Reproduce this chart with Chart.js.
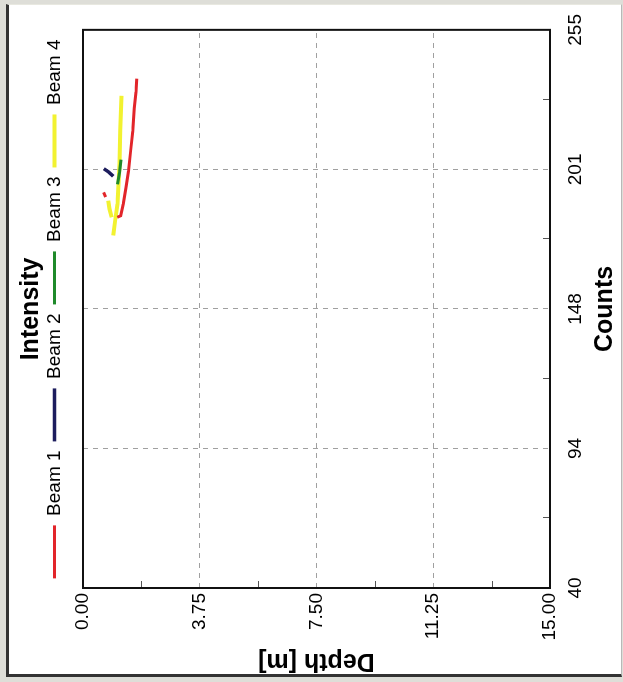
<!DOCTYPE html>
<html>
<head>
<meta charset="utf-8">
<script src="https://cdn.jsdelivr.net/npm/chart.js@4.4.1/dist/chart.umd.min.js"></script>
<style>
  html, body { margin: 0; padding: 0; width: 623px; height: 682px; overflow: hidden; background: #deded8; }
  #frame {
    position: absolute; left: 6px; top: 4px; width: 612px; height: 669px; background: #fff;
    border-left: 3px solid #333; border-bottom: 3px solid #333;
    border-right: 1px solid #b8b8b8; border-top: 1px solid #e8e8e0;
  }
  /* the chart is drawn upright and then turned a quarter turn, like the scan */
  #intensityChart {
    position: absolute; left: 0; top: 0;
    transform-origin: 0 0; transform: translate(0, 682px) rotate(-90deg);
  }
</style>
</head>
<body>
<div id="frame"></div>
<canvas id="intensityChart" width="682" height="623"></canvas>
<script>
const countTicks = ['40', '94', '148', '201', '255'];
const depthTicks = ['0.00', '3.75', '7.50', '11.25', '15.00'];

// null breaks a line into separate pieces
const beam1Counts = [236.2, 231.1, 224.8, 215.9, 208.3, 200.6, 194.3, 187.9, 183.4, 182.8, null, 192.4, 190.6];
const beam1Depth = [1.73, 1.70, 1.65, 1.60, 1.53, 1.46, 1.38, 1.29, 1.21, 1.10, null, 0.66, 0.73];

const beam2Counts = [201.5, 200.3, 198.6];
const beam2Depth = [0.67, 0.82, 0.97];

const beam3Counts = [205.0, 200.0, 195.5];
const beam3Depth = [1.22, 1.17, 1.11];

const beam4Counts = [229.6, 216.5, 203.2, 187.9, 182.2, 175.8, null, 189.2, 186.0, 182.8];
const beam4Depth = [1.24, 1.20, 1.17, 1.11, 1.04, 0.97, null, 0.81, 0.85, 0.92];

const toPoints = (counts, depth) => counts.map((c, i) => ({ x: c, y: depth[i] }));

const plotFrame = {
    id: 'plotFrame',
    afterDraw(chart) {
        const { ctx, chartArea: a, scales } = chart;
        ctx.save();
        // small inward minor ticks halfway between the labelled ones
        ctx.strokeStyle = '#555';
        ctx.lineWidth = 1;
        const xt = scales.x.ticks, yt = scales.y.ticks;
        for (let i = 0; i < xt.length - 1; i++) {
            const px = Math.round(scales.x.getPixelForValue((xt[i].value + xt[i + 1].value) / 2)) + 0.5;
            ctx.beginPath(); ctx.moveTo(px, a.bottom); ctx.lineTo(px, a.bottom - 7); ctx.stroke();
        }
        for (let i = 0; i < yt.length - 1; i++) {
            const py = Math.round(scales.y.getPixelForValue((yt[i].value + yt[i + 1].value) / 2)) + 0.5;
            ctx.beginPath(); ctx.moveTo(a.left, py); ctx.lineTo(a.left + 7, py); ctx.stroke();
        }
        ctx.strokeStyle = '#111';
        ctx.lineWidth = 2;
        ctx.strokeRect(a.left, a.top, a.right - a.left, a.bottom - a.top);
        ctx.restore();
    }
};

const font = 'Liberation Sans, Arial, sans-serif';
const grid = { color: '#a0a0a0', lineWidth: 1, drawTicks: false };
const border = { display: false, dash: [5, 5] };

new Chart(document.getElementById('intensityChart'), {
    type: 'scatter',
    data: {
        datasets: [
            { label: 'Beam 1', data: toPoints(beam1Counts, beam1Depth), borderColor: '#e2252a', backgroundColor: '#e2252a', borderWidth: 3 },
            { label: 'Beam 2', data: toPoints(beam2Counts, beam2Depth), borderColor: '#1d1d5e', backgroundColor: '#1d1d5e', borderWidth: 3.5 },
            { label: 'Beam 3', data: toPoints(beam3Counts, beam3Depth), borderColor: '#1f8a2a', backgroundColor: '#1f8a2a', borderWidth: 3 },
            { label: 'Beam 4', data: toPoints(beam4Counts, beam4Depth), borderColor: '#f2f230', backgroundColor: '#f2f230', borderWidth: 4 },
        ].map(ds => ({ ...ds, showLine: true, pointRadius: 0, spanGaps: false, xAxisID: 'x', yAxisID: 'y' })),
    },
    options: {
        responsive: false,
        animation: false,
        layout: { padding: { left: 0, right: 24, top: 0, bottom: 0 } },
        plugins: {
            tooltip: { enabled: false },
            title: {
                display: true, text: 'Intensity', fullSize: false, color: '#000',
                font: { family: font, size: 25, weight: 'bold' }, padding: { top: 16, bottom: -10 },
            },
            legend: {
                position: 'top', fullSize: false,
                labels: {
                    usePointStyle: true, pointStyle: 'line', pointStyleWidth: 53, padding: 9,
                    color: '#000', font: { family: font, size: 19 },
                },
            },
        },
        scales: {
            x: {
                type: 'linear', position: 'bottom', min: 40, max: 255,
                ticks: { stepSize: 53.75, padding: 14, autoSkip: false, maxRotation: 0, color: '#000', font: { family: font, size: 19 }, callback: (v, i) => countTicks[i] },
                grid, border,
                title: { display: true, text: 'Counts', color: '#000', font: { family: font, size: 25, weight: 'bold' }, padding: { top: 0, bottom: 3 } },
                afterFit: (s) => { s.height = 73; },
            },
            y: {
                type: 'linear', position: 'left', reverse: true, min: 0, max: 15,
                // reversed axis: the tick list runs from 15 down to 0
                ticks: { stepSize: 3.75, padding: 5, autoSkip: false, color: '#000', font: { family: font, size: 19 }, callback: (v, i, t) => depthTicks[t.length - 1 - i] },
                grid, border,
                title: { display: true, text: 'Depth [m]', color: '#000', font: { family: font, size: 25, weight: 'bold' }, padding: { top: 6, bottom: 0 } },
                afterFit: (s) => { s.width = 94; },
            },
            // empty strip between the legend and the plot
            x2: {
                type: 'linear', position: 'top', display: true,
                ticks: { display: false }, grid: { display: false }, border: { display: false },
                afterFit: (s) => { s.height = 9; },
            },
        },
    },
    plugins: [plotFrame],
});
</script>
</body>
</html>
